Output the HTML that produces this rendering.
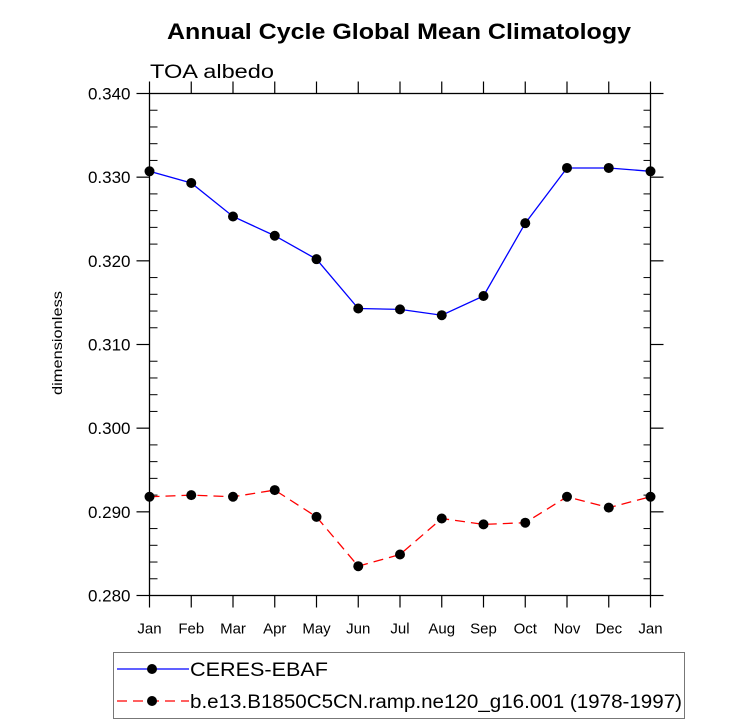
<!DOCTYPE html>
<html><head><meta charset="utf-8"><style>
html,body{margin:0;padding:0;background:#fff;}
svg{display:block;font-family:"Liberation Sans",Arial,sans-serif;}
</style></head><body>
<svg id="chart" width="733" height="725" viewBox="0 0 733 725" xmlns="http://www.w3.org/2000/svg">
<text x="399" y="39" text-anchor="middle" font-size="22" font-weight="bold" textLength="464" lengthAdjust="spacingAndGlyphs">Annual Cycle Global Mean Climatology</text>
<text x="150" y="78" font-size="19" textLength="124" lengthAdjust="spacingAndGlyphs">TOA albedo</text>
<text transform="translate(62,343) rotate(-90)" text-anchor="middle" font-size="14" textLength="104" lengthAdjust="spacingAndGlyphs">dimensionless</text>
<g id="axes"></g>
<g id="series"></g>
<g id="legend">
<rect x="113.5" y="652.5" width="571" height="66" fill="#fff" stroke="#777" stroke-width="1"/>
<g>
<line x1="117" y1="669" x2="189" y2="669" stroke="#0000ff" stroke-width="1.3"/>
<circle cx="152" cy="669" r="5" fill="#000"/>
<text x="190" y="676" font-size="19" textLength="138" lengthAdjust="spacingAndGlyphs">CERES-EBAF</text>
</g>
<g>
<line x1="117" y1="701" x2="189" y2="701" stroke="#ff0000" stroke-width="1.3" stroke-dasharray="10,6"/>
<circle cx="152" cy="701" r="5" fill="#000"/>
<text x="190" y="708" font-size="19" textLength="492" lengthAdjust="spacingAndGlyphs">b.e13.B1850C5CN.ramp.ne120_g16.001 (1978-1997)</text>
</g>
</g>
</svg>
<script>
const months = ["Jan","Feb","Mar","Apr","May","Jun","Jul","Aug","Sep","Oct","Nov","Dec","Jan"];
const ceres = [0.3307,0.3293,0.3253,0.3230,0.3202,0.3143,0.3142,0.3135,0.3158,0.3245,0.3311,0.3311,0.3307];
const model = [0.2918,0.2920,0.2918,0.2926,0.2894,0.2835,0.2849,0.2892,0.2885,0.2887,0.2918,0.2905,0.2918];
const yTicks = [0.280,0.290,0.300,0.310,0.320,0.330,0.340];
const yTickLabels = ["0.280","0.290","0.300","0.310","0.320","0.330","0.340"];

const NS="http://www.w3.org/2000/svg";
const L=149.5,R=650.5,T=93.5,B=595.5,yMin=0.280,yMax=0.340;
function xs(i){return L+(R-L)*i/(months.length-1);}
function ys(v){return B-(B-T)*(v-yMin)/(yMax-yMin);}
function mk(tag,attrs,parent){const e=document.createElementNS(NS,tag);for(const k in attrs)e.setAttribute(k,attrs[k]);parent.appendChild(e);return e;}
const ax=document.getElementById('axes');
let fr=mk('rect',{x:L,y:T,width:R-L,height:B-T,fill:'none',stroke:'#000','stroke-width':1.3},ax);


// y ticks
yTicks.forEach((v,i)=>{
  const y=ys(v);
  mk('line',{x1:L-13,y1:y,x2:L,y2:y,stroke:'#000','stroke-width':1.2},ax);
  mk('line',{x1:R,y1:y,x2:R+13,y2:y,stroke:'#000','stroke-width':1.2},ax);
  const t=mk('text',{x:L-19,y:y+6,'text-anchor':'end','font-size':17},ax);
  t.textContent=yTickLabels[i];
  
  
  if(i<yTicks.length-1){
    for(let k=1;k<5;k++){
      const ym=ys(v+(yTicks[i+1]-v)*k/5);
      mk('line',{x1:L,y1:ym,x2:L+8,y2:ym,stroke:'#000','stroke-width':1},ax);
      mk('line',{x1:R-7,y1:ym,x2:R,y2:ym,stroke:'#000','stroke-width':1},ax);
    }
  }
});
// x ticks
months.forEach((m,i)=>{
  const x=xs(i);
  mk('line',{x1:x,y1:B,x2:x,y2:B+12,stroke:'#000','stroke-width':1.2},ax);
  mk('line',{x1:x,y1:T-12,x2:x,y2:T,stroke:'#000','stroke-width':1.2},ax);
  const t=mk('text',{x:x,y:B+38,'text-anchor':'middle','font-size':15},ax);
  t.textContent=m;
  
  
});
const sg=document.getElementById('series');
function drawSeries(vals,color,dash,name){
  const g=mk('g',{},sg);
  
  
  const pts=vals.map((v,i)=>xs(i)+','+ys(v)).join(' ');
  const a={points:pts,fill:'none',stroke:color,'stroke-width':1.3};
  if(dash)a['stroke-dasharray']=dash;
  mk('polyline',a,g);
  vals.forEach((v,i)=>{
    const c=mk('circle',{cx:xs(i),cy:ys(v),r:5,fill:'#000'},g);
    
    
  });
}
drawSeries(ceres,'#0000ff',null,'ceres-ebaf-series');
drawSeries(model,'#ff0000','10,6','model-series');
</script>
</body></html>
